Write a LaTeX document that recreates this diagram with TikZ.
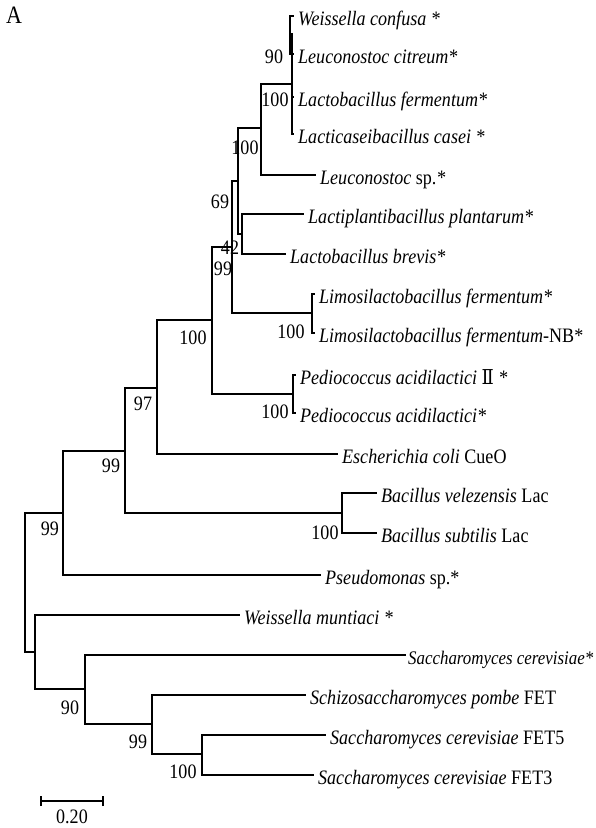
\documentclass[tikz,border=0pt]{standalone}
\usepackage{fontspec}
\setmainfont[FakeStretch=0.88]{Liberation Serif}
\newfontfamily\numform[FakeStretch=0.88]{DejaVu Serif}
\usepackage{tikz}

\tikzset{
  branch/.style={line width=1.6pt},
  leaf/.style={anchor=west, inner xsep=4pt, inner ysep=0pt, text height=18pt, text depth=0pt,
    font=\fontsize{20.5}{22}\selectfont\itshape},
  boot/.style={inner sep=0pt, font=\fontsize{20.5}{22}\selectfont},
}

\begin{document}
\begin{tikzpicture}[x=1pt, y=-1pt]
  \useasboundingbox (0,0) rectangle (596,828);
  \node[inner sep=0pt, font=\fontsize{25}{27}\selectfont] (panel) at (14,15) {A};

  % Lactic acid bacteria, upper clade
  \coordinate (nA) at (290,34);
  \coordinate (nB) at (292,84);
  \coordinate (nC) at (261,128);
  \coordinate (nP) at (242,234);
  \coordinate (nD) at (238,181);
  \coordinate (nL) at (312,313);
  \coordinate (nE) at (232,247);
  \coordinate (nPd) at (293,394);
  \coordinate (nF) at (212,320);
  \coordinate (nG) at (157,388);
  \coordinate (nBa) at (342,513);
  \coordinate (nH) at (125,451);
  \coordinate (nI) at (63,513);
  \coordinate (root) at (25,582);

  % Fungal clade
  \coordinate (nM) at (202,754);
  \coordinate (nS) at (152,724);
  \coordinate (nK) at (85,689);
  \coordinate (nJ) at (35,652);

  % Leaves
  \node[leaf] (w1) at (294,16) {Weissella confusa *};
  \node[leaf] (w2) at (294,54) {Leuconostoc citreum*};
  \node[leaf] (w3) at (294,97) {Lactobacillus fermentum*};
  \node[leaf] (w4) at (294,134) {Lacticaseibacillus casei *};
  \node[leaf] (w5) at (316,175) {Leuconostoc \textup{sp.}*};
  \node[leaf] (w6) at (304,214) {Lactiplantibacillus plantarum*};
  \node[leaf] (w7) at (286,254) {Lactobacillus brevis*};
  \node[leaf] (w8) at (315,294) {Limosilactobacillus fermentum*};
  \node[leaf] (w9) at (315,333) {Limosilactobacillus fermentum\textup{-NB*}};
  \node[leaf] (w10) at (296,375) {Pediococcus acidilactici \textup{\numform Ⅱ} *};
  \node[leaf] (w11) at (296,413) {Pediococcus acidilactici*};
  \node[leaf] (w12) at (338,454) {Escherichia coli \textup{CueO}};
  \node[leaf] (w13) at (377,493) {Bacillus velezensis \textup{Lac}};
  \node[leaf] (w14) at (377,533) {Bacillus subtilis \textup{Lac}};
  \node[leaf] (w15) at (321,575) {Pseudomonas \textup{sp.*}};
  \node[leaf] (w16) at (240,615) {Weissella muntiaci *};
  \node[leaf, inner xsep=2pt, font=\fontsize{19.2}{21}\selectfont\itshape] (w17) at (406,655) {Saccharomyces cerevisiae*};
  \node[leaf] (w18) at (306,695) {Schizosaccharomyces pombe \textup{FET}};
  \node[leaf] (w19) at (326,735) {Saccharomyces cerevisiae \textup{FET5}};
  \node[leaf] (w20) at (314,775) {Saccharomyces cerevisiae \textup{FET3}};

  % Branches
  \draw[branch] (nA) |- (w1.west);
  \draw[branch] (nA) |- (w2.west);
  \draw[branch] (nB) |- (nA);
  \draw[branch] (nB) |- (w3.west);
  \draw[branch] (nB) |- (w4.west);
  \draw[branch] (nC) |- (nB);
  \draw[branch] (nC) |- (w5.west);
  \draw[branch] (nP) |- (w6.west);
  \draw[branch] (nP) |- (w7.west);
  \draw[branch] (nD) |- (nC);
  \draw[branch] (nD) |- (nP);
  \draw[branch] (nL) |- (w8.west);
  \draw[branch] (nL) |- (w9.west);
  \draw[branch] (nE) |- (nD);
  \draw[branch] (nE) |- (nL);
  \draw[branch] (nPd) |- (w10.west);
  \draw[branch] (nPd) |- (w11.west);
  \draw[branch] (nF) |- (nE);
  \draw[branch] (nF) |- (nPd);
  \draw[branch] (nG) |- (nF);
  \draw[branch] (nG) |- (w12.west);
  \draw[branch] (nBa) |- (w13.west);
  \draw[branch] (nBa) |- (w14.west);
  \draw[branch] (nH) |- (nG);
  \draw[branch] (nH) |- (nBa);
  \draw[branch] (nI) |- (nH);
  \draw[branch] (nI) |- (w15.west);
  \draw[branch] (root) |- (nI);
  \draw[branch] (root) |- (nJ);
  \draw[branch] (nM) |- (w19.west);
  \draw[branch] (nM) |- (w20.west);
  \draw[branch] (nS) |- (w18.west);
  \draw[branch] (nS) |- (nM);
  \draw[branch] (nK) |- (w17.west);
  \draw[branch] (nK) |- (nS);
  \draw[branch] (nJ) |- (w16.west);
  \draw[branch] (nJ) |- (nK);

  % Bootstrap values
  \node[boot] (bA) at (274,57) {90};
  \node[boot] (bB) at (275,100) {100};
  \node[boot] (bC) at (245,148) {100};
  \node[boot] (bD) at (220,202) {69};
  \node[boot] (bP) at (230,248) {42};
  \node[boot] (bE) at (223,269) {99};
  \node[boot] (bL) at (291,332) {100};
  \node[boot] (bF) at (193,338) {100};
  \node[boot] (bPd) at (275,412) {100};
  \node[boot] (bG) at (143,404) {97};
  \node[boot] (bH) at (111,466) {99};
  \node[boot] (bBa) at (325,533) {100};
  \node[boot] (bI) at (50,529) {99};
  \node[boot] (bK) at (70,708) {90};
  \node[boot] (bS) at (138,742) {99};
  \node[boot] (bM) at (183,772) {100};

  % Scale bar
  \coordinate (sb1) at (41,801);
  \coordinate (sb2) at (103,801);
  \draw[line width=1.2pt] (sb1) -- (sb2);
  \draw[line width=1.2pt] ([yshift=-5pt]sb1) -- ([yshift=5pt]sb1);
  \draw[line width=1.2pt] ([yshift=-5pt]sb2) -- ([yshift=5pt]sb2);
  \node[boot] (sbl) at (72,817) {0.20};
\end{tikzpicture}
\end{document}
